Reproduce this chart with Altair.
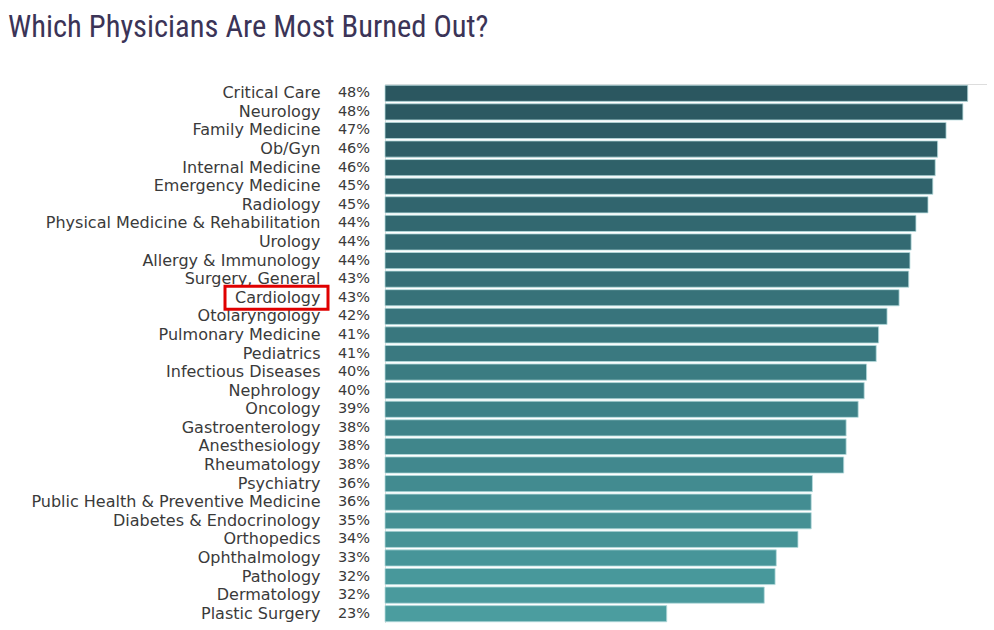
import altair as alt
import pandas as pd

specialties = [
    "Critical Care", "Neurology", "Family Medicine", "Ob/Gyn", "Internal Medicine",
    "Emergency Medicine", "Radiology", "Physical Medicine & Rehabilitation", "Urology",
    "Allergy & Immunology", "Surgery, General", "Cardiology", "Otolaryngology",
    "Pulmonary Medicine", "Pediatrics", "Infectious Diseases", "Nephrology", "Oncology",
    "Gastroenterology", "Anesthesiology", "Rheumatology", "Psychiatry",
    "Public Health & Preventive Medicine", "Diabetes & Endocrinology", "Orthopedics",
    "Ophthalmology", "Pathology", "Dermatology", "Plastic Surgery",
]
pct_labels = [48, 48, 47, 46, 46, 45, 45, 44, 44, 44, 43, 43, 42, 41, 41, 40, 40, 39,
              38, 38, 38, 36, 36, 35, 34, 33, 32, 32, 23]
bar_values = [48.4, 48.0, 46.6, 45.9, 45.7, 45.5, 45.1, 44.1, 43.7, 43.6, 43.5, 42.7,
              41.7, 41.0, 40.8, 40.0, 39.8, 39.3, 38.3, 38.3, 38.1, 35.5, 35.4, 35.4,
              34.3, 32.5, 32.4, 31.5, 23.4]
highlight = "Cardiology"

df = pd.DataFrame({
    "name": specialties,
    "value": bar_values,
    "label": [f"{v}%" for v in pct_labels],
    "rank": list(range(len(specialties))),
})

label_font = "DejaVu Sans"
y_enc = alt.Y(
    "name:N",
    sort=specialties,
    title=None,
    scale=alt.Scale(paddingInner=0.13, paddingOuter=0.065),
    axis=alt.Axis(
        domain=False, ticks=False, tickSize=0, labelPadding=65,
        labelFont=label_font, labelFontSize=16, labelColor="#3a3a3a",
        labelLimit=400,
    ),
)

base = alt.Chart(df)

bars = base.mark_bar(stroke="#b6dcdd", strokeWidth=0.8).encode(
    x=alt.X("value:Q", scale=alt.Scale(domain=[0, 50], nice=False), axis=None),
    y=y_enc,
    color=alt.Color(
        "rank:Q",
        scale=alt.Scale(range=["#2b5760", "#4b9d9f"]),
        legend=None,
    ),
)

pcts = base.mark_text(
    align="center", baseline="middle", font=label_font, fontSize=14.5, color="#3a3a3a",
).encode(
    x=alt.value(-31),
    y=alt.Y("name:N", sort=specialties),
    text="label:N",
)

box = base.transform_filter(alt.datum.name == highlight).mark_bar(
    height=23, fillOpacity=0, stroke="#e00000", strokeWidth=3,
).encode(
    x=alt.value(-160),
    x2=alt.value(-57),
    y=alt.Y("name:N", sort=specialties),
)

chart = alt.layer(bars, pcts, box).properties(
    width=602,
    height=539,
    title=alt.TitleParams(
        "Which Physicians Are Most Burned Out?",
        anchor="start",
        frame="group",
        dx=-377,
        offset=41,
        font="Roboto Condensed, Liberation Sans Narrow, DejaVu Sans Condensed, Roboto",
        fontSize=30.5,
        fontWeight="normal",
        color="#3b3457",
    ),
    padding={"left": 385, "top": 84, "right": 0, "bottom": 0},
    autosize=alt.AutoSizeParams(type="none"),
).configure_view(stroke=None).configure(background="white")

chart.save("out.html", embed_options={"renderer": "svg", "actions": False})
